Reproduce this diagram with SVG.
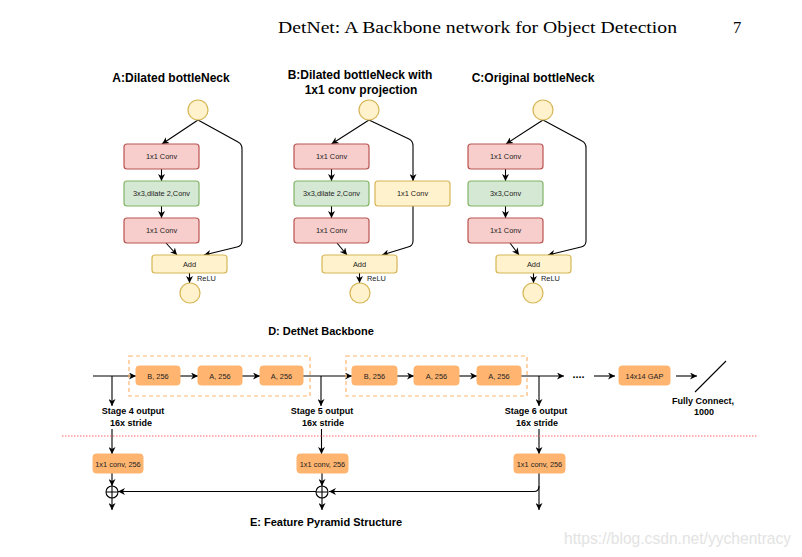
<svg xmlns="http://www.w3.org/2000/svg" width="802" height="557" viewBox="0 0 802 557">
<defs>
<marker id="ah" viewBox="0 0 10 10" refX="10" refY="5" markerWidth="7" markerHeight="7" markerUnits="userSpaceOnUse" orient="auto">
<path d="M0,0 L10,5 L0,10 L3,5 Z" fill="#000"/>
</marker>
<style>
.t{font-family:"Liberation Sans",Arial,sans-serif;font-size:7.4px;fill:#222;text-anchor:middle}
.h{font-family:"Liberation Sans",Arial,sans-serif;font-weight:bold;fill:#000;text-anchor:middle}
.red{fill:#f8cecc;stroke:#b85450;stroke-width:1.2}
.grn{fill:#d5e8d4;stroke:#82b366;stroke-width:1.2}
.yel{fill:#fff2cc;stroke:#d6b656;stroke-width:1.2}
.org{fill:#ffb570;stroke:#ffb570;stroke-width:1}
.dash{fill:none;stroke:#ffb570;stroke-width:1.2;stroke-dasharray:4,3}
.ln{fill:none;stroke:#000;stroke-width:1.1}
.arr{fill:none;stroke:#000;stroke-width:1.1;marker-end:url(#ah)}
</style>
</defs>
<rect width="802" height="557" fill="#fff"/>
<text x="278" y="33" font-family="'Liberation Serif','Times New Roman',serif" font-size="16.5" textLength="399" lengthAdjust="spacingAndGlyphs" fill="#000">DetNet: A Backbone network for Object Detection</text>
<text x="733" y="33" font-family="'Liberation Serif','Times New Roman',serif" font-size="16.5" fill="#000">7</text>

<text class="h" x="171" y="82" font-size="12">A:Dilated bottleNeck</text>
<text class="h" x="360" y="79" font-size="12">B:Dilated bottleNeck with</text>
<text class="h" x="361" y="94" font-size="12">1x1 conv projection</text>
<text class="h" x="533" y="82" font-size="12">C:Original bottleNeck</text>

<g id="connectors">
<!-- A -->
<path class="arr" d="M198,120 L162,144"/>
<path class="ln" d="M198,120 L238,142 Q242,144 242,149 L242,241 Q242,246 237,247 L204,255" marker-end="url(#ah)"/>
<path class="arr" d="M161.5,169 L161.5,181"/>
<path class="arr" d="M161.5,206 L161.5,218"/>
<path class="arr" d="M166,243 L177,255"/>
<path class="arr" d="M189.5,273 L189.5,283"/>
<!-- B -->
<path class="arr" d="M369,120 L331.5,144"/>
<path class="ln" d="M369,120 L409,139 Q413,141 413,146 L413,181" marker-end="url(#ah)"/>
<path class="arr" d="M331.5,169 L331.5,181"/>
<path class="arr" d="M331.5,206 L331.5,218"/>
<path class="arr" d="M337,243 L347,255"/>
<path class="ln" d="M413,206 L413,241 Q413,246 408,247 L382,255" marker-end="url(#ah)"/>
<path class="arr" d="M359.5,273 L359.5,283"/>
<!-- C -->
<path class="arr" d="M543,120 L506,144"/>
<path class="ln" d="M543,120 L582,141 Q586,143 586,148 L586,241 Q586,246 581,247 L548,255" marker-end="url(#ah)"/>
<path class="arr" d="M505.5,169 L505.5,181"/>
<path class="arr" d="M505.5,206 L505.5,218"/>
<path class="arr" d="M510,243 L519,255"/>
<path class="arr" d="M533.5,273 L533.5,283"/>
<!-- D -->
<path class="arr" d="M93,376 L136,376"/>
<path class="arr" d="M112,376 L112,406"/>
<path class="arr" d="M180,376 L198,376"/>
<path class="arr" d="M242,376 L260,376"/>
<path class="arr" d="M303,376 L352,376"/>
<path class="arr" d="M321,376 L321,406"/>
<path class="arr" d="M397,376 L414,376"/>
<path class="arr" d="M459,376 L477,376"/>
<path class="arr" d="M521,376 L564,376"/>
<path class="arr" d="M539,376 L539,406"/>
<path class="arr" d="M594,376 L615,376"/>
<path class="arr" d="M676,376 L697,376"/>
<path class="ln" d="M695,392 L726,361"/>
<!-- E -->
<path class="arr" d="M112,429 L112,454"/>
<path class="arr" d="M321.5,429 L321.5,454"/>
<path class="arr" d="M539,429 L539,454"/>
<path class="arr" d="M112,473 L112,486"/>
<path class="arr" d="M322,473 L322,486"/>
<path class="arr" d="M112,498 L112,510"/>
<path class="arr" d="M322,498 L322,510"/>
<path class="arr" d="M539,473 L539,510"/>
<path class="ln" d="M539,486 Q539,491.5 534,491.5 L329,491.5" marker-end="url(#ah)"/>
<path class="arr" d="M316,491.5 L118,491.5"/>
</g>

<g id="A">
<circle cx="198" cy="110" r="10" class="yel"/>
<rect x="124" y="144" width="75" height="25" rx="3" class="red"/><text class="t" x="161.5" y="159">1x1 Conv</text>
<rect x="124" y="181" width="75" height="25" rx="3" class="grn"/><text class="t" x="161.5" y="196">3x3,dilate 2,Conv</text>
<rect x="124" y="218" width="75" height="25" rx="3" class="red"/><text class="t" x="161.5" y="233">1x1 Conv</text>
<rect x="152" y="255" width="75" height="18" rx="3" class="yel"/><text class="t" x="189.5" y="267">Add</text>
<text class="t" x="197" y="281" text-anchor="start" style="text-anchor:start">ReLU</text>
<circle cx="190" cy="293" r="10" class="yel"/>
</g>

<g id="B">
<circle cx="369" cy="110" r="10" class="yel"/>
<rect x="294" y="144" width="75" height="25" rx="3" class="red"/><text class="t" x="331.5" y="159">1x1 Conv</text>
<rect x="294" y="181" width="75" height="25" rx="3" class="grn"/><text class="t" x="331.5" y="196">3x3,dilate 2,Conv</text>
<rect x="294" y="218" width="75" height="25" rx="3" class="red"/><text class="t" x="331.5" y="233">1x1 Conv</text>
<rect x="375" y="181" width="75" height="25" rx="3" class="yel"/><text class="t" x="412.5" y="196">1x1 Conv</text>
<rect x="322" y="255" width="75" height="18" rx="3" class="yel"/><text class="t" x="359.5" y="267">Add</text>
<text class="t" x="367" y="281" style="text-anchor:start">ReLU</text>
<circle cx="360" cy="293" r="10" class="yel"/>
</g>

<g id="C">
<circle cx="543" cy="110" r="10" class="yel"/>
<rect x="468" y="144" width="75" height="25" rx="3" class="red"/><text class="t" x="505.5" y="159">1x1 Conv</text>
<rect x="468" y="181" width="75" height="25" rx="3" class="grn"/><text class="t" x="505.5" y="196">3x3,Conv</text>
<rect x="468" y="218" width="75" height="25" rx="3" class="red"/><text class="t" x="505.5" y="233">1x1 Conv</text>
<rect x="496" y="255" width="75" height="18" rx="3" class="yel"/><text class="t" x="533.5" y="267">Add</text>
<text class="t" x="541" y="281" style="text-anchor:start">ReLU</text>
<circle cx="533" cy="293" r="10" class="yel"/>
</g>

<g id="D">
<text class="h" x="321" y="335" font-size="11">D: DetNet Backbone</text>
<rect x="129" y="356" width="181" height="40" class="dash"/>
<rect x="346" y="356" width="181" height="40" class="dash"/>
<rect x="136" y="366" width="44" height="19" rx="3" class="org"/><text class="t" x="158" y="378.5">B, 256</text>
<rect x="198" y="366" width="44" height="19" rx="3" class="org"/><text class="t" x="220" y="378.5">A, 256</text>
<rect x="260" y="366" width="43" height="19" rx="3" class="org"/><text class="t" x="281.5" y="378.5">A, 256</text>
<rect x="352" y="366" width="45" height="19" rx="3" class="org"/><text class="t" x="374.5" y="378.5">B, 256</text>
<rect x="414" y="366" width="45" height="19" rx="3" class="org"/><text class="t" x="436.5" y="378.5">A, 256</text>
<rect x="477" y="366" width="44" height="19" rx="3" class="org"/><text class="t" x="499" y="378.5">A, 256</text>
<text class="h" x="578.5" y="378" font-size="11">....</text>
<rect x="619" y="366" width="51" height="19" rx="3" class="org"/><text class="t" x="644.5" y="378.5">14x14 GAP</text>
<text class="h" x="703" y="404" font-size="9">Fully Connect,</text>
<text class="h" x="704" y="415" font-size="9">1000</text>
<text class="h" x="133" y="414" font-size="9">Stage 4 output</text>
<text class="h" x="131" y="426" font-size="9">16x stride</text>
<text class="h" x="322" y="414" font-size="9">Stage 5 output</text>
<text class="h" x="323" y="426" font-size="9">16x stride</text>
<text class="h" x="536" y="414" font-size="9">Stage 6 output</text>
<text class="h" x="537" y="426" font-size="9">16x stride</text>
</g>

<line x1="62" y1="436" x2="757" y2="436" stroke="#ff6666" stroke-width="1" stroke-dasharray="1.5,1.5"/>

<g id="E">
<rect x="93" y="454" width="50" height="19" rx="3" class="org"/><text class="t" x="118" y="466.5">1x1 conv, 256</text>
<rect x="297" y="454" width="51" height="19" rx="3" class="org"/><text class="t" x="322.5" y="466.5">1x1 conv, 256</text>
<rect x="514" y="454" width="51" height="19" rx="3" class="org"/><text class="t" x="539.5" y="466.5">1x1 conv, 256</text>
<g fill="#fff" stroke="#000" stroke-width="1.1">
<circle cx="112" cy="492" r="6"/><path d="M106,492 H118 M112,486 V498"/>
<circle cx="322" cy="492" r="6"/><path d="M316,492 H328 M322,486 V498"/>
</g>
<text class="h" x="326" y="526" font-size="11">E: Feature Pyramid Structure</text>
</g>

<text x="564" y="544" font-family="'Liberation Sans',Arial,sans-serif" font-size="15.6" fill="#e3e3e3">https://blog.csdn.net/yychentracy</text>
</svg>
